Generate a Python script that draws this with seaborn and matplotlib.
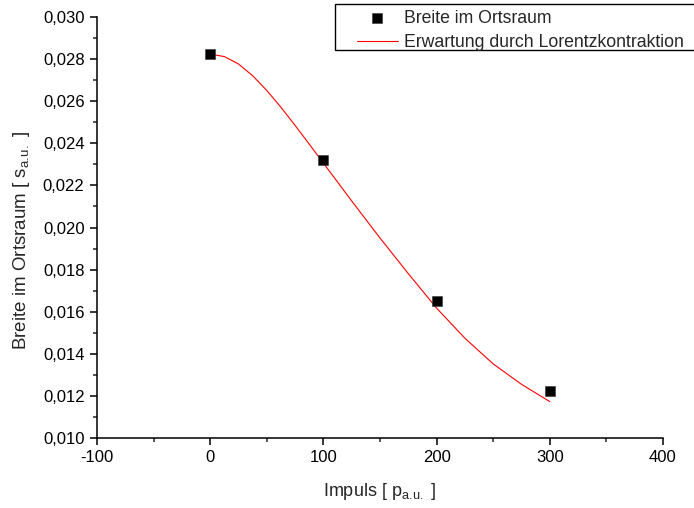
import numpy as np
import pandas as pd
import seaborn as sns
import matplotlib.pyplot as plt
from matplotlib.patches import Rectangle
from matplotlib.ticker import MultipleLocator, FuncFormatter

# Messpunkte
impuls = [0, 100, 200, 300]
breite = [0.02824, 0.02320, 0.01650, 0.01222]

kurve_p = [0, 12.5, 25, 37.5, 50, 62.5, 75, 87.5, 100, 125, 150, 175, 200, 225, 250, 275, 300]
kurve_s = [0.02824, 0.02812, 0.02777, 0.02721, 0.02651, 0.02571, 0.02485, 0.02396, 0.02306,
           0.02126, 0.01950, 0.01781, 0.01617, 0.01474, 0.01352, 0.01255, 0.01173]

sns.set_style('ticks')
plt.rcParams['font.family'] = ['Liberation Sans', 'DejaVu Sans']
plt.rcParams['mathtext.fontset'] = 'custom'
plt.rcParams['mathtext.rm'] = 'Liberation Sans'

fig = plt.figure(figsize=(6.94, 5.08), dpi=100)
ax = fig.add_axes([0.1398, 0.1378, 0.8155, 0.8287])

df_pts = pd.DataFrame({'p': impuls, 's': breite})
df_fit = pd.DataFrame({'p': kurve_p, 's': kurve_s})

sns.lineplot(data=df_fit, x='p', y='s', color='red', linewidth=0.8, sort=False, ax=ax,
             label='Erwartung durch Lorentzkontraktion')
sns.scatterplot(data=df_pts, x='p', y='s', marker='s', s=50, color='black', edgecolor='#333333',
                linewidth=0.4, ax=ax, label='Breite im Ortsraum', zorder=3)

ax.set_xlim(-100, 400)
ax.set_ylim(0.010, 0.030)
ax.xaxis.set_major_locator(MultipleLocator(100))
ax.xaxis.set_minor_locator(MultipleLocator(50))
ax.yaxis.set_major_locator(MultipleLocator(0.002))
ax.yaxis.set_minor_locator(MultipleLocator(0.001))
ax.yaxis.set_major_formatter(FuncFormatter(lambda v, pos: f'{v:.3f}'.replace('.', ',')))
ax.xaxis.set_major_formatter(FuncFormatter(lambda v, pos: f'{v:.0f}'))
ax.tick_params(which='major', direction='out', length=5, width=1.1, labelsize=12, colors='black', pad=4)
ax.tick_params(which='minor', direction='out', length=3, width=1.1)

sns.despine(ax=ax)
for sp in ['left', 'bottom']:
    ax.spines[sp].set_linewidth(1.1)
    ax.spines[sp].set_color('black')

ax.set_xlabel(r'Impuls [ p$_{\mathregular{a.\!u.}}$ ]', fontsize=13, labelpad=11)
ax.set_ylabel(r'Breite im Ortsraum [ s$_{\mathregular{a.\!u.}}$ ]', fontsize=13.5)
ax.yaxis.set_label_coords(-0.115, 0.47)

handles, labels = ax.get_legend_handles_labels()
order = [labels.index('Breite im Ortsraum'), labels.index('Erwartung durch Lorentzkontraktion')]
ax.get_legend().remove()

# Legendenrahmen (rechts abgeschnitten wie im Original)
fig.patches.append(Rectangle((335 / 694, 1 - 50 / 508), 0.6, 46 / 508, transform=fig.transFigure,
                             facecolor='white', edgecolor='black', linewidth=1.0, zorder=5))
leg = fig.legend([handles[i] for i in order], [labels[i] for i in order],
                 loc='upper left', bbox_to_anchor=(357 / 694, 1 - 10 / 508),
                 fontsize=12.7, frameon=False,
                 handlelength=2.3, handletextpad=0.35, labelspacing=0.4,
                 borderpad=0, borderaxespad=0)
leg.set_zorder(6)

fig.savefig('out.png', dpi=100)
